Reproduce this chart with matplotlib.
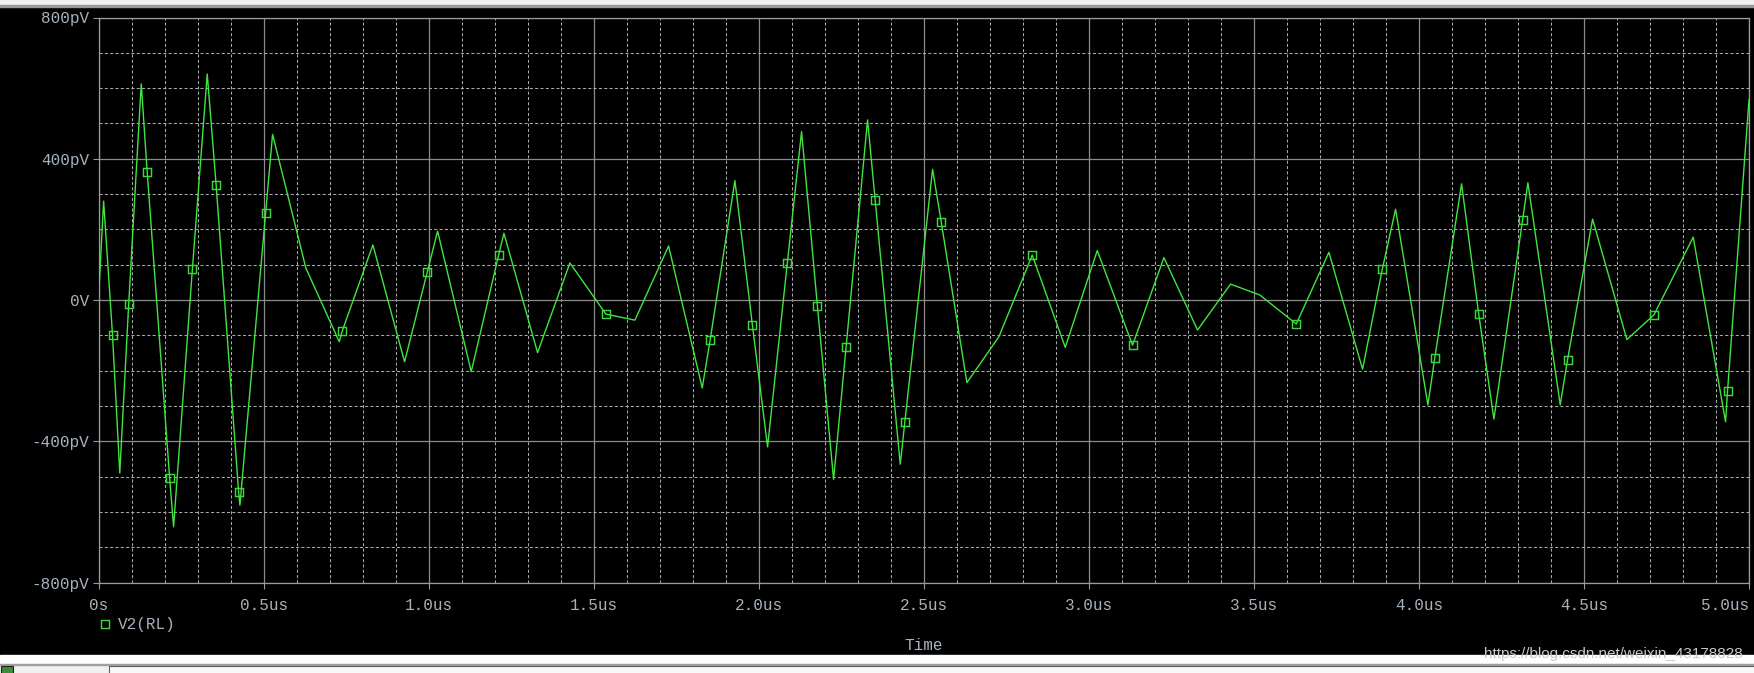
import numpy as np
import matplotlib
matplotlib.use('Agg')
import matplotlib.pyplot as plt
from matplotlib.lines import Line2D
from matplotlib.patches import Rectangle

plt.rcParams['font.family'] = ['Liberation Mono', 'DejaVu Sans Mono']

# V2(RL) trace: time in us, voltage in pV
time_us = [0.000, 0.014, 0.041, 0.063, 0.090, 0.128, 0.146, 0.214, 0.226, 0.283,
           0.328, 0.355, 0.423, 0.427, 0.505, 0.526, 0.627, 0.728, 0.737, 0.830,
           0.926, 0.995, 1.026, 1.128, 1.211, 1.227, 1.329, 1.427, 1.536, 1.624,
           1.726, 1.828, 1.852, 1.927, 1.980, 2.026, 2.086, 2.129, 2.177, 2.226,
           2.264, 2.329, 2.352, 2.428, 2.442, 2.526, 2.552, 2.630, 2.727, 2.828,
           2.928, 3.025, 3.132, 3.227, 3.329, 3.429, 3.518, 3.628, 3.727, 3.829,
           3.889, 3.929, 4.027, 4.048, 4.129, 4.181, 4.227, 4.314, 4.330, 4.428,
           4.450, 4.526, 4.630, 4.712, 4.831, 4.929, 4.935, 5.000]
v2_pv = [30, 280, -100, -490, -11, 612, 363, -503, -642, 88,
         640, 325, -543, -581, 247, 469, 90, -118, -88, 156,
         -175, 80, 195, -203, 127, 189, -149, 105, -40, -57,
         153, -249, -113, 338, -71, -416, 106, 477, -17, -508,
         -132, 510, 283, -465, -345, 370, 222, -234, -104, 127,
         -134, 140, -128, 120, -85, 45, 14, -68, 135, -196,
         88, 257, -297, -163, 329, -40, -337, 227, 332, -297,
         -170, 229, -112, -42, 178, -345, -257, 567]
# points that carry the square probe markers
marker_idx = [2, 4, 6, 7, 9, 11, 12, 14, 18, 21, 24, 28, 32, 34, 36, 38, 40, 42,
              44, 46, 49, 52, 57, 60, 63, 65, 67, 70, 73, 76]

x_ticks = [0, 0.5, 1.0, 1.5, 2.0, 2.5, 3.0, 3.5, 4.0, 4.5, 5.0]
x_labels = ['0s', '0.5us', '1.0us', '1.5us', '2.0us', '2.5us', '3.0us',
            '3.5us', '4.0us', '4.5us', '5.0us']
y_ticks = [-800, -400, 0, 400, 800]
y_labels = ['-800pV', '-400pV', '0V', '400pV', '800pV']

W, H = 1754, 673
green = '#3fe63f'
mark_col = '#3ad83a'
label_col = '#a6b2be'
frame_col = '#9a9a9a'

fig = plt.figure(figsize=(W / 100, H / 100), dpi=100, facecolor='black')
ax = fig.add_axes([99 / W, 90.5 / H, 1650 / W, 565 / H], facecolor='black')

ax.plot(time_us, v2_pv, color=green, lw=1.0, marker='s', markevery=marker_idx,
        ms=6, mfc='none', mec=mark_col, mew=1.05, zorder=3)

ax.set_xlim(0, 5)
ax.set_ylim(-800, 800)
ax.set_xticks(x_ticks)
ax.set_xticklabels(x_labels)
ax.set_yticks(y_ticks)
ax.set_yticklabels(y_labels)
ax.set_xticks(np.arange(0, 5.001, 0.1), minor=True)
ax.set_yticks(np.arange(-800, 801, 100), minor=True)
ax.get_xticklabels()[-1].set_horizontalalignment('right')

ax.set_axisbelow(True)
ax.grid(which='major', color='#8c8c8c', lw=0.9, ls='-')
ax.grid(which='minor', color='#a8a8a8', lw=0.75, ls=(0, (3.0, 2.1)))
ax.tick_params(which='minor', length=0)
ax.tick_params(which='major', direction='out', length=4.3, width=0.8,
               color=frame_col, labelcolor=label_col, labelsize=11.5)
ax.tick_params(axis='y', pad=2.6)
ax.tick_params(axis='x', pad=7)
for s in ax.spines.values():
    s.set_color(frame_col)
    s.set_linewidth(0.9)

proxy = Line2D([], [], ls='none', marker='s', ms=6, mfc='none', mec=mark_col, mew=1.05)
ax.legend(handles=[proxy], labels=['V2(RL)'], loc='center left',
          bbox_to_anchor=(97 / W, 1 - 625 / H), bbox_transform=fig.transFigure,
          frameon=False, borderpad=0, borderaxespad=0, handlelength=1.0,
          handletextpad=0.3, fontsize=11.5, labelcolor=label_col)

fig.text(924 / W, 1 - 646 / H, 'Time', ha='center', va='center',
         fontsize=11.5, color=label_col)

# window chrome above and below the probe screen
fig.add_artist(Rectangle((0, 1 - 5 / H), 1, 5 / H, transform=fig.transFigure,
                         color='#f0f0f0', zorder=1))
fig.add_artist(Rectangle((0, 1 - 7 / H), 1, 2 / H, transform=fig.transFigure,
                         color='#9a9a9a', zorder=1))
fig.add_artist(Rectangle((0, 0), 1, (H - 655) / H, transform=fig.transFigure,
                         color='#ffffff', zorder=1))
fig.add_artist(Rectangle((0, 0), 1, (H - 664) / H, transform=fig.transFigure,
                         color='#f0f0f0', zorder=1))
fig.add_artist(Rectangle((0, (H - 664.5) / H), 1, 1 / H, transform=fig.transFigure,
                         color='#a0a0a0', zorder=1))
fig.add_artist(Rectangle((109 / W, -0.01), 1, (H - 666) / H + 0.01,
                         transform=fig.transFigure, facecolor='#f8f8f8',
                         edgecolor='#606060', lw=0.8, zorder=1))
fig.add_artist(Rectangle((1 / W, -0.01), 12 / W, (H - 666) / H + 0.01,
                         transform=fig.transFigure, facecolor='#3c8c3c',
                         edgecolor='#202020', lw=0.8, zorder=1))

fig.text(1743 / W, 1 - 654 / H, 'https://blog.csdn.net/weixin_43178828',
         ha='right', va='center', fontsize=11, color='#c8c8c8',
         family='Liberation Sans', zorder=5)

fig.savefig('out.png', dpi=100, facecolor='black')
